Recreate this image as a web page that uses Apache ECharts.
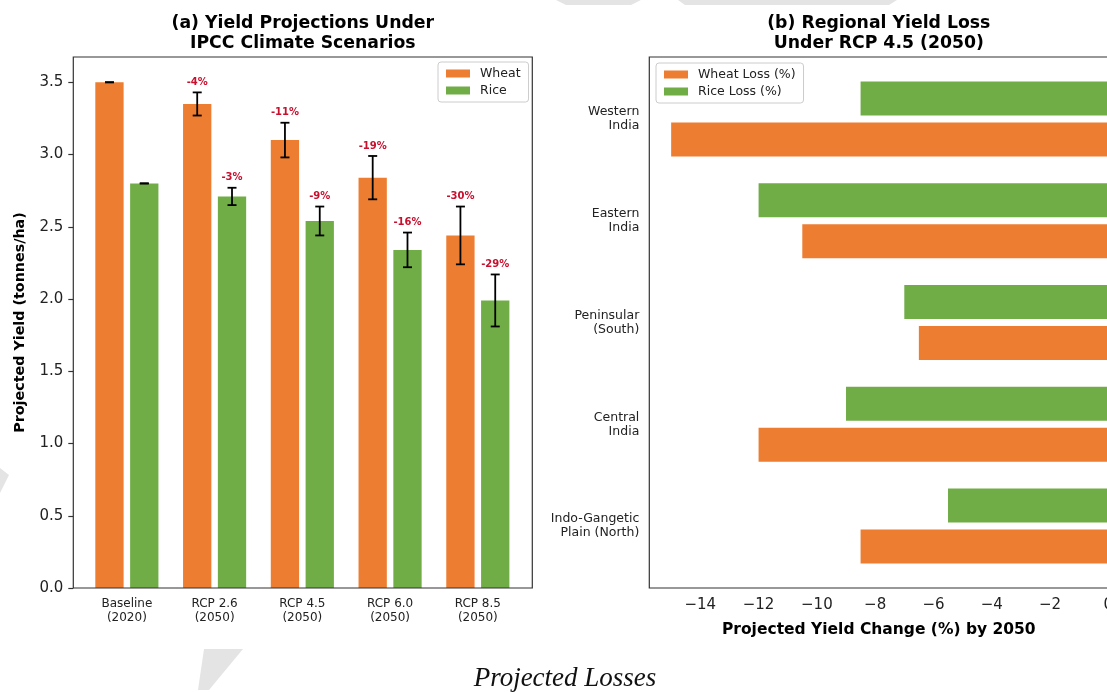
<!DOCTYPE html>
<html><head><meta charset="utf-8">
<script src="https://cdn.jsdelivr.net/npm/echarts@6/dist/echarts.min.js"></script>
<style>html,body{margin:0;padding:0;background:#fff}#c{width:1107px;height:692px}</style>
</head><body><div id="c"></div>
<script>
// ---- data ----
const scenarios = ['Baseline\n(2020)', 'RCP 2.6\n(2050)', 'RCP 4.5\n(2050)', 'RCP 6.0\n(2050)', 'RCP 8.5\n(2050)'];
const wheatYield = [3.50, 3.35, 3.10, 2.84, 2.44];
const riceYield = [2.80, 2.71, 2.54, 2.34, 1.99];
const wheatErr = [0, 0.08, 0.12, 0.15, 0.20];
const riceErr = [0, 0.06, 0.10, 0.12, 0.18];
const wheatPct = ['', '-4%', '-11%', '-19%', '-30%'];
const ricePct = ['', '-3%', '-9%', '-16%', '-29%'];
const yieldTicks = [0, 0.5, 1, 1.5, 2, 2.5, 3, 3.5];

const regions = ['Indo-Gangetic\nPlain (North)', 'Central\nIndia', 'Peninsular\n(South)', 'Eastern\nIndia', 'Western\nIndia'];
const wheatLoss = [-8.5, -12, -6.5, -10.5, -15];
const riceLoss = [-5.5, -9, -7, -12, -8.5];
const changeTicks = [-14, -12, -10, -8, -6, -4, -2, 0];

// ---- styles ----
const ORANGE = '#ED7D31', GREEN = '#70AD47';
const FONT = 'DejaVu Sans';
const BAR_W = 28.3, BAR_GAP_PX = 6.5, CAP = 4.5;

function errorBarRenderer(sign, labels) {
  return function (params, api) {
    const i = api.value(0), v = api.value(1), e = api.value(2);
    const dx = sign * (BAR_W + BAR_GAP_PX) / 2;
    const x = api.coord([i, v])[0] + dx;
    const yTop = api.coord([i, v + e])[1];
    const yBot = api.coord([i, v - e])[1];
    const st = { stroke: '#000', lineWidth: 1.8 };
    const children = [
      { type: 'line', shape: { x1: x, y1: yTop, x2: x, y2: yBot }, style: st },
      { type: 'line', shape: { x1: x - CAP, y1: yTop, x2: x + CAP, y2: yTop }, style: st },
      { type: 'line', shape: { x1: x - CAP, y1: yBot, x2: x + CAP, y2: yBot }, style: st }
    ];
    const t = labels[params.dataIndex];
    if (t) children.push({ type: 'text', x: x, y: yTop - 5,
      style: { text: t, fill: '#c8102e', fontFamily: FONT, fontWeight: 'bold', fontSize: 10, align: 'center', verticalAlign: 'bottom' } });
    return { type: 'group', children: children };
  };
}

const chart = echarts.init(document.getElementById('c'), null, { renderer: 'canvas' });
const legendCommon = {
  orient: 'vertical', icon: 'rect', itemWidth: 24, itemHeight: 8, itemGap: 4,
  padding: [5, 8, 5, 8], backgroundColor: '#fff', borderColor: '#cccccc', borderWidth: 1, borderRadius: 3,
  textStyle: { fontFamily: FONT, fontSize: 12.5, color: '#222', padding: [0, 0, 0, 5] }
};
const frameGrid = { show: true, borderColor: '#333', borderWidth: 1.2, backgroundColor: 'transparent', z: 5, outerBoundsMode: 'none' };

chart.setOption({
  animation: false,
  textStyle: { fontFamily: FONT },
  grid: [
    { left: 83, top: 57, width: 438.7, height: 531, outerBoundsMode: 'none' },
    Object.assign({ left: 73.3, top: 57, width: 459, height: 531 }, frameGrid),
    { left: 649.3, top: 68.1, width: 459, height: 508.8, outerBoundsMode: 'none' },
    Object.assign({ left: 649.3, top: 57, width: 459, height: 531 }, frameGrid)
  ],
  legend: [
    Object.assign({ data: ['Wheat', 'Rice'], left: 438, top: 62 }, legendCommon),
    Object.assign({ data: ['Wheat Loss (%)', 'Rice Loss (%)'], left: 656, top: 63 }, legendCommon)
  ],
  xAxis: [
    { type: 'category', gridIndex: 0, data: scenarios,
      axisLine: { show: false },
      axisTick: { alignWithLabel: true, length: 5, lineStyle: { color: '#333', width: 1.2 } },
      axisLabel: { fontSize: 12, lineHeight: 14, color: '#222', margin: 9 } },
    { type: 'value', gridIndex: 1, show: false },
    { type: 'value', gridIndex: 2, min: -15.75, max: 0, offset: 11.2,
      axisLine: { show: false }, splitLine: { show: false },
      axisTick: { customValues: changeTicks, length: 5, lineStyle: { color: '#333', width: 1.2 } },
      axisLabel: { customValues: changeTicks, fontSize: 15, color: '#222', margin: 10,
        formatter: v => String(v).replace('-', '\u2212') },
      name: 'Projected Yield Change (%) by 2050', nameLocation: 'middle', nameGap: 34,
      nameTextStyle: { fontWeight: 'bold', fontSize: 15.5, color: '#000' } },
    { type: 'value', gridIndex: 3, show: false }
  ],
  yAxis: [
    { type: 'value', gridIndex: 0, min: 0, max: 3.675, offset: 9.7,
      axisLine: { show: false }, splitLine: { show: false },
      axisTick: { show: true, customValues: yieldTicks, length: 5, lineStyle: { color: '#333', width: 1.2 } },
      axisLabel: { customValues: yieldTicks, fontSize: 15, color: '#222', margin: 10, formatter: v => v.toFixed(1) },
      name: 'Projected Yield (tonnes/ha)', nameLocation: 'middle', nameGap: 46,
      nameTextStyle: { fontWeight: 'bold', fontSize: 14.3, color: '#000' } },
    { type: 'value', gridIndex: 1, show: false },
    { type: 'category', gridIndex: 2, data: regions,
      axisLine: { show: false },
      axisTick: { alignWithLabel: true, length: 5, lineStyle: { color: '#333', width: 1.2 } },
      axisLabel: { fontSize: 12.5, lineHeight: 14, color: '#222', margin: 10, align: 'right' } },
    { type: 'value', gridIndex: 3, show: false }
  ],
  series: [
    { name: 'Wheat', type: 'bar', xAxisIndex: 0, yAxisIndex: 0, data: wheatYield,
      barWidth: BAR_W, barGap: (BAR_GAP_PX / BAR_W * 100).toFixed(1) + '%', itemStyle: { color: ORANGE } },
    { name: 'Rice', type: 'bar', xAxisIndex: 0, yAxisIndex: 0, data: riceYield,
      barWidth: BAR_W, barGap: (BAR_GAP_PX / BAR_W * 100).toFixed(1) + '%', itemStyle: { color: GREEN } },
    { type: 'custom', xAxisIndex: 0, yAxisIndex: 0, z: 4,
      data: wheatYield.map((v, i) => [i, v, wheatErr[i]]), encode: { x: 0, y: 1 },
      renderItem: errorBarRenderer(-1, wheatPct) },
    { type: 'custom', xAxisIndex: 0, yAxisIndex: 0, z: 4,
      data: riceYield.map((v, i) => [i, v, riceErr[i]]), encode: { x: 0, y: 1 },
      renderItem: errorBarRenderer(1, ricePct) },
    { name: 'Rice Loss (%)', type: 'bar', xAxisIndex: 2, yAxisIndex: 2, data: riceLoss,
      barWidth: 34, barGap: '20%', itemStyle: { color: GREEN } },
    { name: 'Wheat Loss (%)', type: 'bar', xAxisIndex: 2, yAxisIndex: 2, data: wheatLoss,
      barWidth: 34, barGap: '20%', itemStyle: { color: ORANGE } }
  ],
  graphic: [
    { type: 'polygon', shape: { points: [[556, 0], [641, 0], [631, 5], [566, 5]] }, style: { fill: '#e4e4e4' }, z: -1 },
    { type: 'polygon', shape: { points: [[678, 0], [897, 0], [889, 5], [685, 5]] }, style: { fill: '#e4e4e4' }, z: -1 },
    { type: 'polygon', shape: { points: [[204, 649], [243, 649], [209, 690], [198, 690]] }, style: { fill: '#e4e4e4' }, z: -1 },
    { type: 'polygon', shape: { points: [[0, 468], [9, 475], [0, 493]] }, style: { fill: '#e4e4e4' }, z: -1 },
    { type: 'text', x: 302.8, y: 13.5, style: { text: '(a) Yield Projections Under\nIPCC Climate Scenarios',
      fontFamily: FONT, fontWeight: 'bold', fontSize: 17.3, lineHeight: 20, align: 'center', verticalAlign: 'top', fill: '#000' } },
    { type: 'text', x: 878.8, y: 13.5, style: { text: '(b) Regional Yield Loss\nUnder RCP 4.5 (2050)',
      fontFamily: FONT, fontWeight: 'bold', fontSize: 17.3, lineHeight: 20, align: 'center', verticalAlign: 'top', fill: '#000' } },
    { type: 'text', x: 565, y: 679, style: { text: 'Projected Losses',
      fontFamily: 'Liberation Serif', fontStyle: 'italic', fontSize: 27, align: 'center', verticalAlign: 'middle', fill: '#111' } }
  ]
});
</script></body></html>
